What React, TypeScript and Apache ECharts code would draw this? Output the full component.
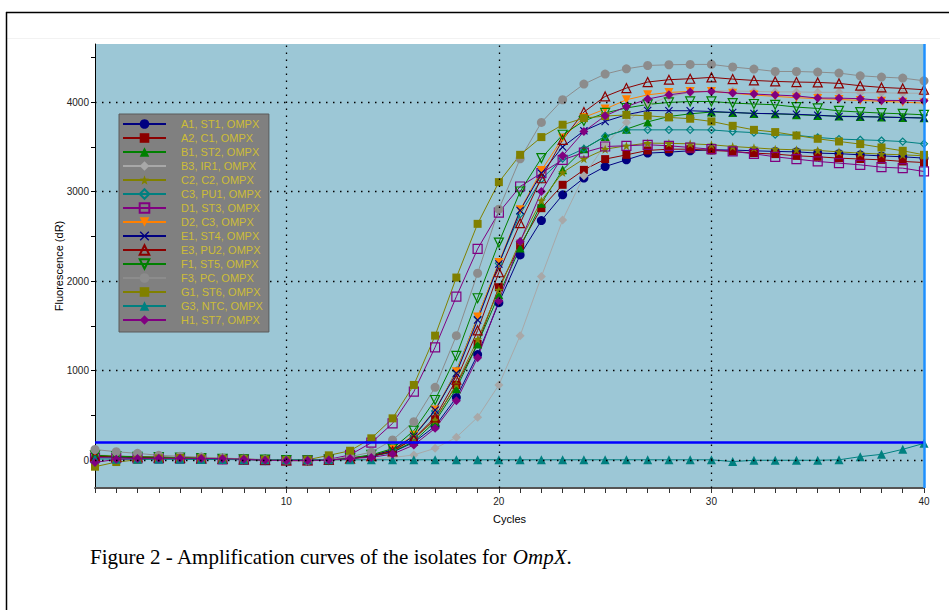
import React, { useEffect, useRef } from 'react';
import * as echarts from 'echarts';

const cycles = [1, 2, 3, 4, 5, 6, 7, 8, 9, 10, 11, 12, 13, 14, 15, 16, 17, 18, 19, 20, 21, 22, 23, 24, 25, 26, 27, 28, 29, 30, 31, 32, 33, 34, 35, 36, 37, 38, 39, 40];

const seriesNames = [
  'A1, ST1, OMPX', 'A2, C1, OMPX', 'B1, ST2, OMPX', 'B3, IR1, OMPX', 'C2, C2, OMPX',
  'C3, PU1, OMPX', 'D1, ST3, OMPX', 'D2, C3, OMPX', 'E1, ST4, OMPX', 'E3, PU2, OMPX',
  'F1, ST5, OMPX', 'F3, PC, OMPX', 'G1, ST6, OMPX', 'G3, NTC, OMPX', 'H1, ST7, OMPX',
];

const A1 = [40, 35, 30, 28, 25, 20, 15, 10, 5, 0, 0, 5, 20, 45, 90, 200, 380, 700, 1180, 1760, 2294, 2678, 2965, 3152, 3281, 3356, 3431, 3442, 3457, 3468, 3465, 3457, 3450, 3445, 3431, 3425, 3412, 3400, 3390, 3375];
const A2 = [55, 45, 40, 35, 30, 25, 18, 12, 5, -5, -5, 0, 20, 50, 110, 240, 457, 841, 1300, 1933, 2400, 2816, 3077, 3244, 3364, 3412, 3461, 3475, 3475, 3461, 3450, 3431, 3420, 3401, 3390, 3375, 3365, 3356, 3338, 3326];
const B1 = [50, 45, 38, 33, 30, 22, 16, 10, 5, 0, -3, 3, 18, 45, 95, 210, 430, 800, 1300, 1850, 2372, 2872, 3244, 3480, 3617, 3699, 3780, 3840, 3870, 3890, 3885, 3875, 3870, 3860, 3850, 3845, 3840, 3835, 3830, 3825];
const B3 = [60, 50, 42, 35, 30, 25, 18, 12, 8, 3, 0, 0, 5, 15, 30, 60, 133, 256, 480, 841, 1392, 2052, 2685, 3178, 3524, 3774, 3971, 4064, 4109, 4125, 4125, 4120, 4115, 4115, 4110, 4110, 4105, 4105, 4100, 4100];
const C2 = [45, 40, 35, 30, 28, 22, 16, 10, 5, 0, -2, 3, 20, 50, 110, 240, 450, 850, 1350, 1900, 2450, 2900, 3214, 3367, 3475, 3513, 3543, 3540, 3535, 3524, 3505, 3490, 3475, 3468, 3461, 3445, 3431, 3420, 3412, 3401];
const C3 = [40, 35, 32, 28, 25, 20, 15, 10, 5, 0, 0, 5, 22, 55, 120, 270, 550, 1000, 1600, 2200, 2750, 3140, 3370, 3480, 3620, 3691, 3691, 3691, 3691, 3690, 3672, 3660, 3636, 3630, 3606, 3588, 3580, 3572, 3560, 3535];
const D1 = [30, 25, 22, 20, 18, 14, 10, 6, 2, -2, 0, 10, 60, 196, 412, 766, 1262, 1828, 2361, 2767, 3058, 3207, 3356, 3438, 3505, 3513, 3524, 3513, 3494, 3475, 3450, 3423, 3390, 3364, 3338, 3319, 3300, 3274, 3263, 3226];
const D2 = [50, 42, 36, 32, 28, 22, 16, 10, 5, 0, -2, 4, 22, 55, 120, 280, 561, 990, 1600, 2210, 2797, 3237, 3599, 3830, 3923, 4027, 4082, 4109, 4120, 4120, 4100, 4080, 4065, 4050, 4040, 4030, 4020, 4010, 4000, 3990];
const E1 = [45, 40, 34, 30, 27, 21, 15, 10, 5, 0, -2, 4, 20, 50, 115, 270, 560, 971, 1567, 2193, 2790, 3207, 3500, 3680, 3785, 3860, 3907, 3905, 3904, 3896, 3885, 3875, 3871, 3865, 3855, 3840, 3838, 3833, 3828, 3822];
const E3 = [45, 40, 35, 30, 27, 21, 15, 10, 4, -2, -3, 3, 18, 45, 100, 240, 480, 900, 1450, 2100, 2648, 3150, 3580, 3890, 4064, 4158, 4225, 4251, 4262, 4277, 4258, 4243, 4232, 4225, 4221, 4210, 4184, 4165, 4154, 4139];
const F1 = [55, 45, 38, 34, 30, 24, 17, 11, 6, 1, 0, 6, 25, 60, 130, 330, 673, 1165, 1810, 2432, 3002, 3375, 3636, 3790, 3880, 3935, 3975, 3997, 4008, 4008, 3990, 3980, 3971, 3945, 3930, 3903, 3890, 3878, 3870, 3859];
const F3 = [120, 95, 77, 55, 45, 35, 25, 15, 8, 3, 0, 8, 40, 90, 226, 431, 815, 1392, 2089, 2805, 3367, 3774, 4027, 4202, 4314, 4373, 4410, 4418, 4422, 4422, 4393, 4370, 4343, 4343, 4336, 4325, 4295, 4280, 4269, 4239];
const G1 = [-72, -20, 5, 20, 25, 20, 15, 10, 5, 0, 5, 55, 106, 245, 468, 841, 1392, 2041, 2641, 3107, 3412, 3610, 3748, 3822, 3845, 3858, 3848, 3830, 3815, 3785, 3736, 3691, 3666, 3628, 3591, 3561, 3532, 3494, 3457, 3412];
const G3 = [15, 12, 10, 10, 10, 8, 8, 6, 5, 5, 5, 5, 5, 5, 5, 5, 5, 5, 5, 5, 5, 5, 5, 5, 5, 5, 5, 5, 5, 5, -15, 0, 0, 0, 0, 5, 40, 66, 122, 189];
const H1 = [-24, 10, 20, 22, 22, 20, 18, 12, 0, -2, -2, 2, 20, 32, 69, 170, 357, 665, 1146, 1780, 2443, 3002, 3401, 3672, 3848, 3952, 4035, 4082, 4113, 4120, 4102, 4091, 4080, 4070, 4046, 4045, 4039, 4020, 4019, 4016];

const seriesValues = [A1, A2, B1, B3, C2, C3, D1, D2, E1, E3, F1, F3, G1, G3, H1];

const seriesColors = ['#000080', '#8B0000', '#008000', '#A8A8A8', '#808000', '#008080', '#800080', '#FF8000', '#000080', '#8B0000', '#008000', '#8C8C8C', '#808000', '#008080', '#800080'];

const CROSS = 'path://M1,0L5,4L9,0L10,1L6,5L10,9L9,10L5,6L1,10L0,9L4,5L0,1Z';
const STAR = 'path://M5,0L6.2,3.5L10,3.8L7,6.2L8.1,10L5,7.8L1.9,10L3,6.2L0,3.8L3.8,3.5Z';

const seriesSymbols = ['circle', 'rect', 'triangle', 'diamond', STAR, 'diamond', 'rect', 'triangle', CROSS, 'triangle', 'triangle', 'circle', 'rect', 'triangle', 'diamond'];
const seriesHollow = [false, false, false, false, false, true, true, false, false, true, true, false, false, false, false];
const seriesRotate = [0, 0, 0, 0, 0, 0, 0, 180, 0, 0, 180, 0, 0, 0, 0];
const seriesSize = [9, 8, 9, 9, 9, 7, 9, 9, 8, 9, 9, 9, 8, 9, 9];

const yLabelValues = [0, 1000, 2000, 3000, 4000];
const yTickValues = [0, 500, 1000, 1500, 2000, 2500, 3000, 3500, 4000, 4500];
const xLabelValues = [10, 20, 30, 40];
const xGridValues = [10, 20, 30];
const threshold = 200;

export default function App() {
  const ref = useRef<HTMLDivElement>(null);
  useEffect(() => {
    if (!ref.current) return;
    const chart = echarts.init(ref.current, null, { renderer: 'svg' });
    const dotted = { type: [1.5, 5.5], color: '#000', width: 1.3 };
    const series: any[] = [
      {
        name: '__grid',
        type: 'line',
        data: [],
        silent: true,
        z: 1,
        markLine: {
          silent: true,
          symbol: ['none', 'none'],
          label: { show: false },
          lineStyle: dotted,
          animation: false,
          data: [
            ...yLabelValues.map((v) => ({ yAxis: v })),
            ...xGridValues.map((v) => ({ xAxis: v })),
          ],
        },
      },
    ];
    seriesNames.forEach((name, i) => {
      const c = seriesColors[i];
      series.push({
        name,
        type: 'line',
        z: 2,
        data: seriesValues[i].map((v, k) => [cycles[k], v]),
        symbol: seriesSymbols[i],
        symbolSize: seriesSize[i],
        symbolRotate: seriesRotate[i],
        showAllSymbol: true,
        lineStyle: { color: c, width: 1 },
        itemStyle: seriesHollow[i]
          ? { color: 'rgba(0,0,0,0)', borderColor: c, borderWidth: 1.2 }
          : { color: c },
      });
    });
    series.push({
      name: '__threshold',
      type: 'line',
      data: [],
      silent: true,
      z: 3,
      markLine: {
        silent: true,
        symbol: ['none', 'none'],
        label: { show: false },
        animation: false,
        data: [
          { yAxis: threshold, lineStyle: { color: '#0000FF', width: 2.5, type: 'solid' } },
          { xAxis: 40, lineStyle: { color: '#1E90FF', width: 2.5, type: 'solid' } },
        ],
      },
    });

    chart.setOption({
      animation: false,
      backgroundColor: '#ffffff',
      title: {
        text: '{a|Figure 2 - Amplification curves of the isolates for }{b|OmpX}{a|.}',
        left: 90,
        top: 546,
        padding: 0,
        textStyle: {
          fontWeight: 'normal',
          rich: {
            a: { fontFamily: 'Liberation Serif', fontSize: 21, fontWeight: 'normal', color: '#000' },
            b: { fontFamily: 'Liberation Serif', fontSize: 21, fontWeight: 'normal', fontStyle: 'italic', color: '#000' },
          },
        },
      },
      grid: {
        left: 95,
        top: 44,
        width: 829,
        height: 444,
        show: true,
        backgroundColor: '#9CC7D6',
        borderWidth: 0,
      },
      legend: {
        orient: 'vertical',
        left: 119,
        top: 114,
        z: 20,
        backgroundColor: '#808080',
        borderColor: '#5A5A5A',
        borderWidth: 1,
        padding: [4, 6, 6, 3],
        itemWidth: 43,
        itemHeight: 12,
        itemGap: 2,
        selectedMode: false,
        textStyle: {
          color: '#CDBD37',
          fontSize: 11,
          fontFamily: 'Liberation Sans',
          lineHeight: 12,
          padding: [0, 0, 0, 10],
        },
        data: seriesNames,
      },
      xAxis: {
        type: 'value',
        min: 1,
        max: 40,
        interval: 1,
        name: 'Cycles',
        nameLocation: 'middle',
        nameGap: 25,
        nameTextStyle: { fontFamily: 'Liberation Sans', fontSize: 11, color: '#000' },
        axisLine: { show: true, onZero: false, lineStyle: { color: '#555', width: 2 } },
        axisTick: { show: true, length: 5, lineStyle: { color: '#333' } },
        axisLabel: {
          customValues: xLabelValues,
          formatter: (v: number) => (v % 10 === 0 ? String(v) : ''),
          fontFamily: 'Liberation Sans',
          fontSize: 10,
          color: '#222',
          margin: 8,
        },
        splitLine: { show: false },
      },
      yAxis: {
        type: 'value',
        min: -310,
        max: 4650,
        name: 'Fluorescence (dR)',
        nameLocation: 'middle',
        nameGap: 31,
        nameMoveOverlap: false,
        nameRotate: 90,
        nameTextStyle: { fontFamily: 'Liberation Sans', fontSize: 11, color: '#000' },
        axisLine: { show: true, lineStyle: { color: '#000', width: 1 } },
        axisTick: { show: true, length: 4, customValues: yTickValues, lineStyle: { color: '#000' } },
        axisLabel: {
          customValues: yLabelValues,
          formatter: (v: number) => String(v),
          fontFamily: 'Liberation Sans',
          fontSize: 10,
          color: '#222',
          margin: 6,
        },
        splitLine: { show: false },
      },
      graphic: [
        {
          type: 'line',
          shape: { x1: 6, y1: 12.5, x2: 949, y2: 12.5 },
          style: { stroke: '#000', lineWidth: 1.5 },
          silent: true,
          z: 50,
        },
        {
          type: 'line',
          shape: { x1: 6.5, y1: 12, x2: 6.5, y2: 610 },
          style: { stroke: '#000', lineWidth: 1.5 },
          silent: true,
          z: 50,
        },
        {
          type: 'line',
          shape: { x1: 7, y1: 38.5, x2: 940, y2: 38.5 },
          style: { stroke: '#F2F2F2', lineWidth: 1 },
          silent: true,
          z: -10,
        },
      ],
      series,
    });
    return () => chart.dispose();
  }, []);
  return (
    <div
      ref={ref}
      style={{ position: 'fixed', left: 0, top: 0, width: 949, height: 610 }}
    />
  );
}
